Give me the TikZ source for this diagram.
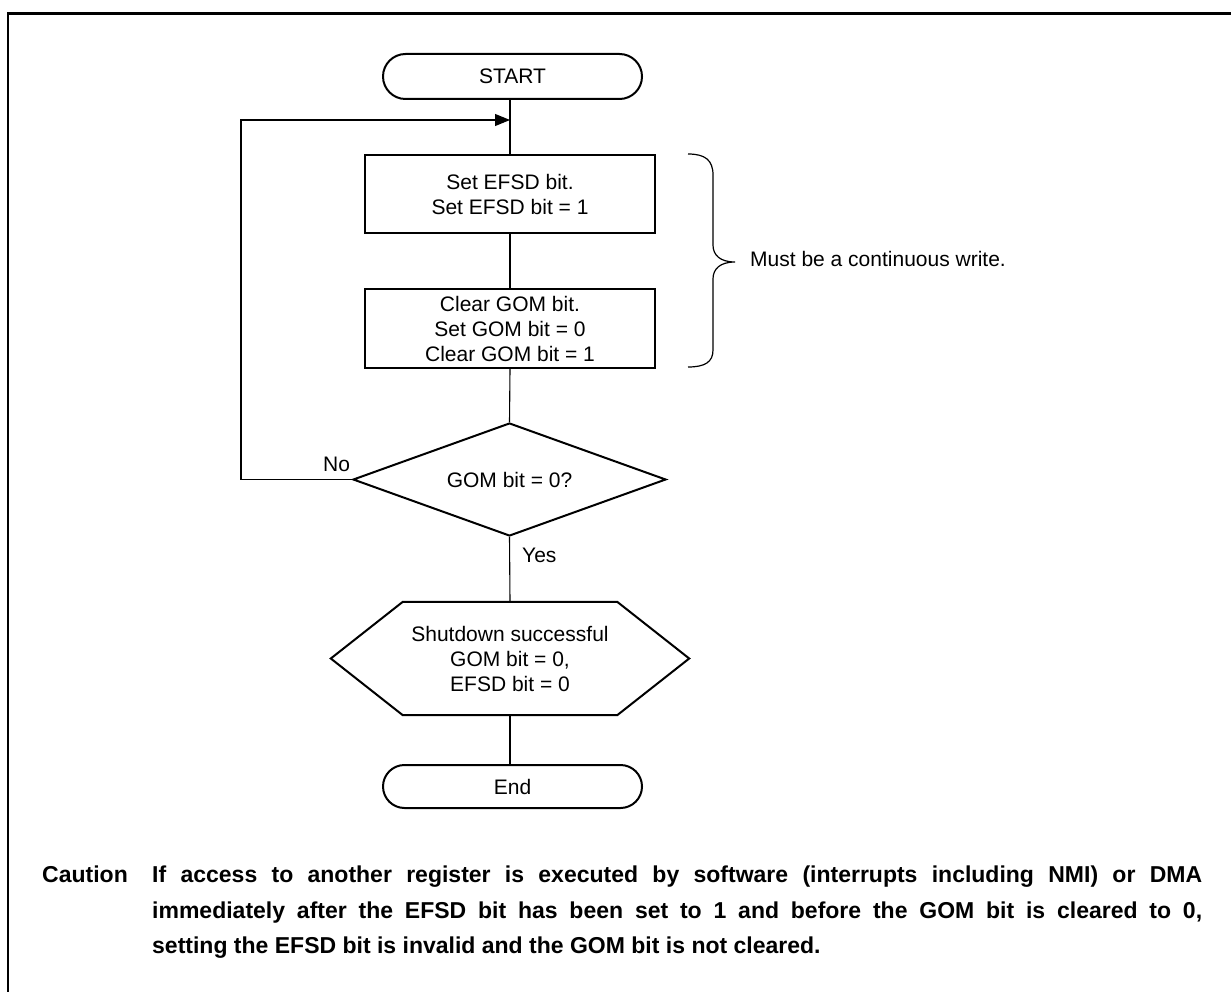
\documentclass[tikz,border=0pt]{standalone}
\usepackage{fontspec}
\setmainfont{Liberation Sans}
\usetikzlibrary{shapes.geometric, shapes.misc, arrows.meta}
\begin{document}
\begin{tikzpicture}[x=1pt,y=-1pt,
  every node/.style={font=\fontsize{21}{25}\selectfont},
  term/.style={draw, line width=2pt, rounded rectangle, minimum width=259pt, minimum height=45pt, inner sep=0pt},
  proc/.style={draw, line width=2pt, rectangle, minimum width=290pt, minimum height=78pt, align=center, inner sep=0pt, text depth=0pt},
  dec/.style={draw, line width=2pt, diamond, aspect=2.77, minimum width=313pt, minimum height=113pt, inner sep=0pt},
  hexbox/.style={minimum width=358pt, minimum height=113pt, inner sep=0pt, align=center, text depth=0pt},
  outline/.style={line width=2pt, line join=miter},
  conn/.style={line width=1.1pt},
  lbl/.style={inner sep=0pt, anchor=base west},
  captext/.style={inner sep=0pt, anchor=base west, font=\fontsize{23}{36}\selectfont\bfseries},
]
\useasboundingbox (0,0) rectangle (1231,992);
% frame (open at right and bottom)
\draw[line width=2.6pt, line join=miter] (8,1010) -- (8,13.8) -- (1245,13.8);

% nodes
\node[term] (start) at (512.5,76.5) {START};
\node[proc] (b1) at (510,194) {Set EFSD bit.\\Set EFSD bit = 1};
\node[proc, minimum height=79pt] (b2) at (510,328.5) {Clear GOM bit.\\Set GOM bit = 0\\Clear GOM bit = 1};
\node[dec] (d) at (509.5,479.5) {GOM bit = 0?};
\node[hexbox] (hex) at (510,658.5) {Shutdown successful\\GOM bit = 0,\\EFSD bit = 0};
\draw[outline] (hex.west) -- ([xshift=72pt]hex.north west) -- ([xshift=-72pt]hex.north east) -- (hex.east) -- ([xshift=-72pt]hex.south east) -- ([xshift=72pt]hex.south west) -- cycle;
\node[term, minimum height=43pt] (end) at (512.5,786.5) {End};

% connectors
\draw[conn] (start.south -| b1.north) -- (b1.north);
\draw[conn] (b1.south) -- (b2.north);
\draw[conn] (b2.south) -- (d.north);
\draw[conn] (d.south) -- (hex.north);
\draw[conn] (hex.south) -- (end.north -| hex.south);
\coordinate (lt) at (241,120);
\coordinate (ar) at (510,120);
\draw[conn, line join=miter, -{Triangle[length=15pt,width=12pt]}] (d.west) -- (d.west -| lt) -- (lt) -- (ar);

% labels
\node[lbl] (no) at (323,471) {No};
\node[lbl] (yes) at (522,562) {Yes};

% brace
\draw[line width=1.2pt] (688,154) .. controls (705,154) and (713,160) .. (713,175) -- (713,245)
  .. controls (713,255) and (720,262) .. (735,262)
  .. controls (720,262) and (713,269) .. (713,279) -- (713,350)
  .. controls (713,362) and (705,367) .. (688,367);
\node[lbl] (must) at (750,267) {Must be a continuous write.};

% caution
\node[captext] (caution) at (42,882) {Caution};
\node[captext] (l1) at (152,882) {\makebox[1050pt][s]{If access to another register is executed by software (interrupts including NMI) or DMA}};
\node[captext] (l2) at (152,918) {\makebox[1050pt][s]{immediately after the EFSD bit has been set to 1 and before the GOM bit is cleared to 0,}};
\node[captext] (l3) at (152,953.5) {setting the EFSD bit is invalid and the GOM bit is not cleared.};
\end{tikzpicture}
\end{document}
